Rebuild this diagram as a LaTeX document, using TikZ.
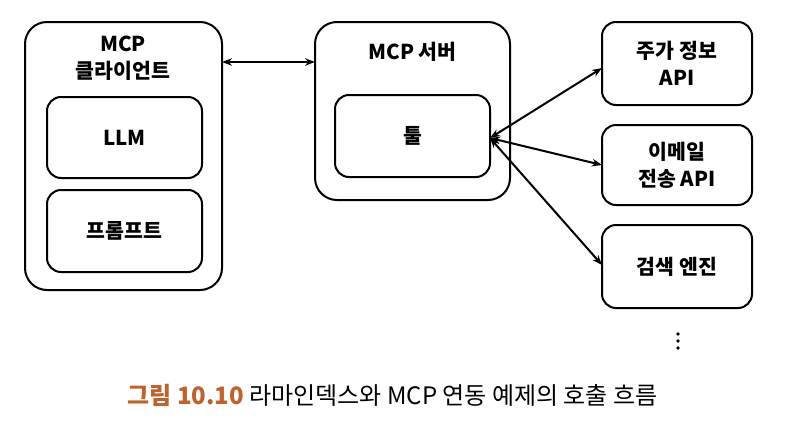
\documentclass[tikz,border=0pt]{standalone}
\usepackage{fontspec}
\setmainfont{Noto Sans CJK KR}
\usetikzlibrary{arrows.meta}
\definecolor{capc}{HTML}{C0622E}
\tikzset{
  outer/.style={draw, line width=2pt, rounded corners=22pt},
  inner/.style={draw, line width=2pt, rounded corners=14pt},
  txt/.style={font=\fontsize{20.5}{27}\selectfont\bfseries, align=center},
  conn/.style={line width=2pt, {Stealth[length=10pt]}-{Stealth[length=10pt]}}
}
\begin{document}
\begin{tikzpicture}[x=1pt,y=-1pt]
\useasboundingbox (0,0) rectangle (790,434);
\draw[outer] (25,22) rectangle (222,290);
\node[txt] (clt) at (123,58) {MCP\\클라이언트};
\draw[inner] (47,97) rectangle (202,178);
\node[txt] (llm) at (124.5,137.5) {LLM};
\draw[inner] (47,190) rectangle (202,272);
\node[txt] (pr) at (124.5,231) {프롬프트};
\draw[outer] (315,22) rectangle (510,200);
\node[txt] (srv) at (412.5,52) {MCP 서버};
\draw[inner] (335,95) rectangle (490,177);
\node[txt] (tool) at (412.5,136) {툴};
\draw[inner] (602,22) rectangle (752,105);
\node[txt] (a1) at (677,63.5) {주가 정보\\API};
\draw[inner] (602,125) rectangle (752,205);
\node[txt] (a2) at (677,165) {이메일\\전송 API};
\draw[inner] (602,225) rectangle (752,308);
\node[txt] (a3) at (677,266.5) {검색 엔진};
\foreach \yy in {334,341,348} \fill (678,\yy) circle (1.8pt);
\coordinate (cl) at (222,62); \coordinate (cr) at (315,62);
\draw[conn] (cl) -- (cr);
\coordinate (t) at (490,138);
\coordinate (e1) at (602,68); \coordinate (e2) at (602,165); \coordinate (e3) at (602,265);
\draw[conn] (t) -- (e1);
\draw[conn] (t) -- (e2);
\draw[conn] (t) -- (e3);
\node[font=\fontsize{24}{27}\selectfont, anchor=west] (cap) at (124,395) {\textcolor{capc}{\bfseries 그림 10.10} 라마인덱스와 MCP 연동 예제의 호출 흐름};
\end{tikzpicture}
\end{document}
